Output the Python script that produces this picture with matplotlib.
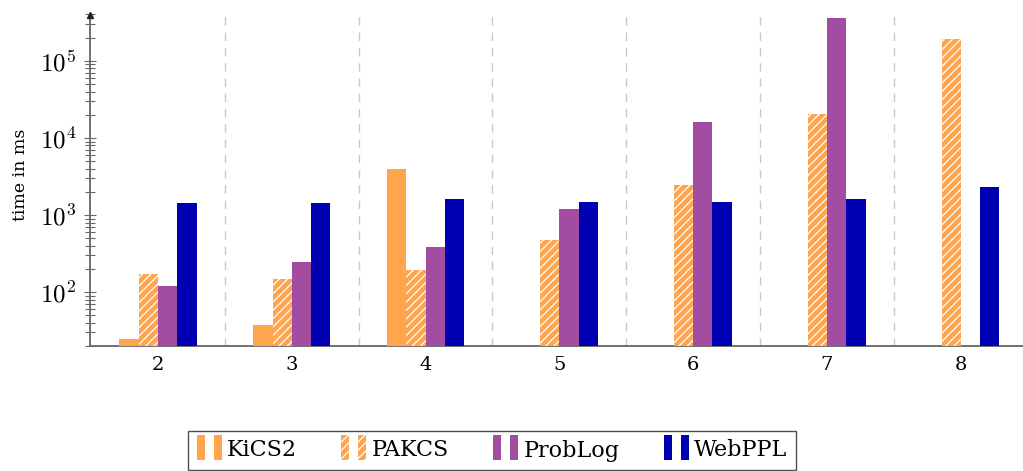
import numpy as np
import matplotlib
matplotlib.use("Agg")
import matplotlib.pyplot as plt
from matplotlib.patches import Rectangle
from matplotlib.legend_handler import HandlerBase
from matplotlib.ticker import FixedLocator, FuncFormatter, LogLocator, NullFormatter

# Benchmark sizes on the x axis
categories = ["2", "3", "4", "5", "6", "7", "8"]

# Run times in ms (None = no result)
kics2   = [25, 37, 3900, None, None, None, None]
pakcs   = [172, 149, 193, 475, 2445, 20700, 191000]
problog = [121, 247, 385, 1197, 15970, 360000, None]
webppl  = [1443, 1416, 1595, 1460, 1485, 1610, 2280]

series_names = ["KiCS2", "PAKCS", "ProbLog", "WebPPL"]
series_values = [kics2, pakcs, problog, webppl]
series_colors = ["#FFA54D", "#FFA54D", "#A24DA2", "#0000B3"]
series_hatches = [None, "////", None, None]

plt.rcParams["mathtext.fontset"] = "cm"
plt.rcParams["font.family"] = ["DejaVu Serif"]
plt.rcParams["hatch.linewidth"] = 0.9

fig = plt.figure(figsize=(10.23, 4.71), dpi=100)
ax = fig.add_axes([90 / 1023, 1 - 346 / 471, 1 - 90 / 1023, (346 - 14.5) / 471])

x = np.arange(len(categories)) + 2
bar_w = 0.144
offsets = [-1.5, -0.5, 0.5, 1.5]

handles = []
for name, vals, col, hat, off in zip(series_names, series_values, series_colors,
                                     series_hatches, offsets):
    xs = [xi + off * bar_w for xi, v in zip(x, vals) if v is not None]
    vs = [v for v in vals if v is not None]
    bars = ax.bar(xs, vs, width=bar_w, color=col, hatch=hat,
                  edgecolor="white" if hat else col, linewidth=0,
                  label=name, zorder=3)
    handles.append(bars.patches[0])

ax.set_yscale("log")
ax.set_ylim(20, 4e5)
ax.set_xlim(1.492, 8.465)

# separators between groups
for xs in np.arange(2.5, 8.5, 1.0):
    ax.axvline(xs, color="#c8c8c8", lw=1.0, ls=(0, (6, 5)), zorder=1)

ax.set_xticks(x)
ax.set_xticklabels(categories, fontsize=14)
ax.tick_params(axis="x", length=0, pad=7)

ax.yaxis.set_major_locator(FixedLocator([1e2, 1e3, 1e4, 1e5]))
ax.yaxis.set_major_formatter(FuncFormatter(lambda v, p: r"$10^{%d}$" % round(np.log10(v))))
ax.yaxis.set_minor_locator(LogLocator(base=10, subs=np.arange(2, 10)))
ax.yaxis.set_minor_formatter(NullFormatter())
ax.tick_params(axis="y", which="major", direction="inout", length=8, width=0.8,
               color="#666666", labelsize=18, pad=6)
ax.tick_params(axis="y", which="minor", direction="inout", length=7, width=0.8,
               color="#666666")

for s in ("top", "right"):
    ax.spines[s].set_visible(False)
for s in ("left", "bottom"):
    ax.spines[s].set_color("#666666")
    ax.spines[s].set_linewidth(1.3)

ax.plot([0], [1.0], marker="^", ms=5, color="#222222", transform=ax.transAxes,
        clip_on=False, zorder=5)

ax.set_ylabel("time in ms", fontsize=12.5)
ax.yaxis.set_label_coords(-0.065, 0.516)


class TwoBarHandler(HandlerBase):
    def create_artists(self, legend, orig_handle, xdescent, ydescent, width,
                       height, fontsize, trans):
        w = width * 0.32
        hat = orig_handle.get_hatch()
        fc = orig_handle.get_facecolor()
        out = []
        for x0 in (0.0, width - w):
            r = Rectangle((x0 - xdescent, -ydescent - 0.2 * height), w, height * 1.6,
                          facecolor=fc, hatch=hat,
                          edgecolor="white" if hat else fc, linewidth=0,
                          transform=trans)
            out.append(r)
        return out


leg = fig.legend(handles, series_names, loc="center",
                 bbox_to_anchor=((186 + 798) / 2 / 1023, 1 - 450.5 / 471),
                 ncol=4, frameon=True, fancybox=False, fontsize=16,
                 handler_map={h: TwoBarHandler() for h in handles},
                 handlelength=1.13, handletextpad=0.23, columnspacing=2.0,
                 borderpad=0.4)
leg.get_frame().set_edgecolor("#222222")
leg.get_frame().set_linewidth(1.0)

fig.savefig("out.png", dpi=100)
